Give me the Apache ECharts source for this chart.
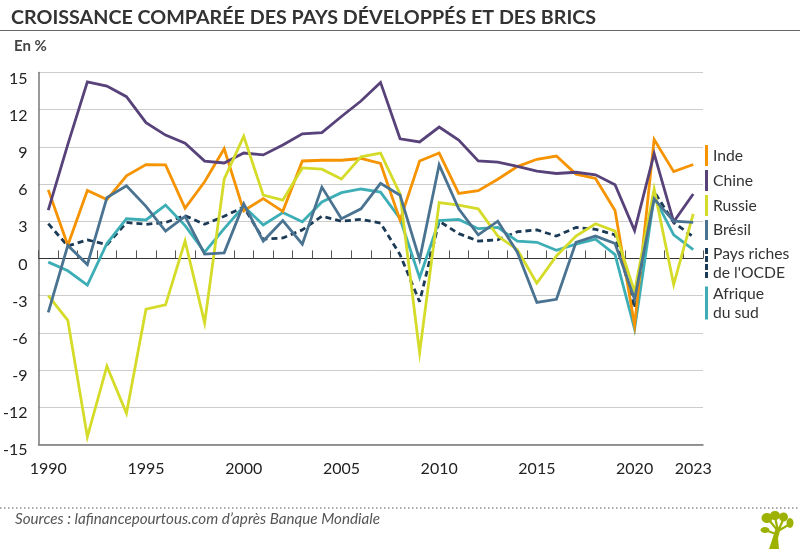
<!DOCTYPE html>
<html><head><meta charset="utf-8">
<style>html,body{margin:0;padding:0;background:#fff}#c{width:800px;height:549px}</style>
<script src="https://cdn.jsdelivr.net/npm/echarts@6/dist/echarts.min.js"></script>
</head><body><div id="c"></div>
<script>
const years = [];
for (let y = 1990; y <= 2023; y++) years.push(String(y));
const shownYears = ['1990','1995','2000','2005','2010','2015','2020','2023'];
const inde   = [5.53,1.06,5.48,4.75,6.66,7.57,7.55,4.05,6.18,8.85,3.84,4.82,3.80,7.86,7.92,7.92,8.06,7.66,3.09,7.86,8.50,5.24,5.46,6.39,7.41,8.00,8.26,6.80,6.45,3.87,-5.4,9.6,7.00,7.58];
const chine  = [3.9,9.2,14.25,13.9,13.05,10.95,9.95,9.3,7.85,7.7,8.5,8.35,9.15,10.05,10.15,11.45,12.7,14.2,9.65,9.4,10.6,9.55,7.86,7.77,7.43,7.04,6.85,6.95,6.75,5.95,2.24,8.45,2.95,5.2];
const russie = [-3.0,-5.0,-14.4,-8.7,-12.5,-4.1,-3.75,1.4,-5.2,6.4,9.85,5.1,4.7,7.3,7.2,6.4,8.2,8.5,5.2,-7.6,4.5,4.3,4.0,1.8,0.7,-2.0,0.2,1.8,2.8,2.2,-2.7,5.6,-2.1,3.6];
const bresil = [-4.35,1.05,-0.5,4.9,5.85,4.2,2.2,3.4,0.35,0.45,4.4,1.4,3.05,1.15,5.75,3.2,4.0,6.05,5.1,-0.1,7.55,4.0,1.9,3.0,0.5,-3.55,-3.3,1.3,1.8,1.2,-3.3,4.8,3.0,2.9];
const ocde   = [2.8,1.0,1.5,1.1,2.9,2.75,2.9,3.45,2.75,3.4,4.15,1.55,1.65,2.3,3.4,3.0,3.15,2.85,0.3,-3.5,3.0,2.0,1.4,1.5,2.15,2.3,1.8,2.5,2.35,1.9,-4.0,5.4,2.9,1.75];
const afrique= [-0.3,-1.0,-2.15,1.2,3.2,3.1,4.3,2.65,0.5,2.4,4.2,2.7,3.7,2.95,4.55,5.3,5.6,5.35,3.2,-1.55,3.05,3.15,2.4,2.5,1.4,1.3,0.65,1.15,1.55,0.3,-5.7,4.95,1.9,0.7];

const FONT = 'Lato';
const GREEN = '#9DB200';
const C = {inde:'#F59300',chine:'#57427A',russie:'#D5DB29',bresil:'#4A7391',ocde:'#1B3A55',afrique:'#3DAEB5'};
const line = (name,data,color,extra) => Object.assign({
  name,type:'line',data,xAxisIndex:0,yAxisIndex:0,symbol:'none',silent:true,
  lineStyle:{color,width:2.8,cap:'butt',join:'miter'},itemStyle:{color}},extra||{});
const leg = (name,label,top,h,color,icon) => ({
  data:[{name,icon:icon||'rect'}],left:705,top,orient:'vertical',padding:0,itemWidth:3,itemHeight:h,
  selectedMode:false,formatter:()=>label,
  itemStyle:{color:icon?'#1B3A55':color},lineStyle:{width:0},
  textStyle:{fontFamily:FONT,fontSize:15.7,color:'#333',lineHeight:19}
});
const dashIcon = 'path://M0 0H3V6H0ZM0 8H3V14H0ZM0 16H3V22H0ZM0 24H3V30H0Z';
const leaf = (cx,cy,rx,ry) => ({type:'ellipse',silent:true,shape:{cx,cy,rx,ry},style:{fill:GREEN}});
const branch = (x1,y1,x2,y2,w) => ({type:'line',silent:true,shape:{x1,y1,x2,y2},style:{stroke:GREEN,lineWidth:w}});

const chart = echarts.init(document.getElementById('c'),null,{renderer:'canvas'});
chart.setOption({
  animation:false,
  backgroundColor:'#fff',
  title:[
    {text:'CROISSANCE COMPARÉE DES PAYS DÉVELOPPÉS ET DES BRICS',left:11,top:8,padding:0,
     textStyle:{fontFamily:FONT,fontSize:19.7,fontWeight:'bold',color:'#333'}},
    {text:'En %',left:14,top:39,padding:0,textStyle:{fontFamily:FONT,fontSize:15,fontWeight:'bold',color:'#444'}},
    {text:'Sources : lafinancepourtous.com d’après Banque Mondiale',left:15,top:512,padding:0,
     textStyle:{fontFamily:FONT,fontSize:15.2,fontStyle:'italic',fontWeight:'normal',color:'#555'}}
  ],
  grid:{left:37.2,top:72.5,width:665.8,height:371.8,containLabel:false},
  legend:[
    leg('Inde','Inde',145,21,C.inde),
    leg('Chine','Chine',170,21,C.chine),
    leg('Russie','Russie',195,21,C.russie),
    leg('Brésil','Brésil',220,20,C.bresil),
    leg('Pays riches','Pays riches\nde l\'OCDE',244,31,C.ocde,dashIcon),
    leg('Afrique','Afrique\ndu sud',284,33,C.afrique)
  ],
  xAxis:[
    {type:'category',data:years,boundaryGap:true,position:'bottom',
     axisLine:{onZero:true,lineStyle:{color:'#333',width:1}},
     axisTick:{show:true,inside:true,length:8,interval:0,lineStyle:{color:'#555',width:1}},
     axisLabel:{show:false},splitLine:{show:false}},
    {type:'category',data:years,boundaryGap:true,position:'bottom',
     axisLine:{onZero:false,lineStyle:{color:'#777',width:1.5}},
     axisTick:{show:false},
     axisLabel:{show:true,interval:(i,v)=>shownYears.includes(v),margin:17,hideOverlap:false,
       fontFamily:FONT,fontSize:16,color:'#222'},splitLine:{show:false}}
  ],
  yAxis:[{type:'value',min:-15,max:15,interval:3,
    axisLine:{show:true,onZero:false,lineStyle:{color:'#777',width:1.5}},
    axisTick:{show:false},
    splitLine:{show:true,lineStyle:{color:'#ccc',width:1}},
    axisLabel:{fontFamily:FONT,fontSize:16,color:'#222',margin:11,align:'right',verticalAlign:'top',lineHeight:12}
  }],
  series:[
    line('Pays riches',ocde,C.ocde,{lineStyle:{color:C.ocde,width:2.8,type:[6,4]}}),
    line('Afrique',afrique,C.afrique),
    line('Inde',inde,C.inde),
    line('Chine',chine,C.chine),
    line('Russie',russie,C.russie),
    line('Brésil',bresil,C.bresil),
    {type:'line',xAxisIndex:1,yAxisIndex:0,data:[],silent:true}
  ],
  graphic:[
    {type:'line',silent:true,shape:{x1:0,y1:30.5,x2:800,y2:30.5},style:{stroke:'#666',lineWidth:1}},
    {type:'line',silent:true,shape:{x1:0,y1:508,x2:800,y2:508},style:{stroke:'#555',lineWidth:1.2,lineDash:[1.5,2.5]}},
    {type:'polygon',silent:true,shape:{points:[[769,549],[779,549],[778,538],[781,527],[776,527],[773,537]]},style:{fill:GREEN}},
    branch(778,531,769,520,2.2),branch(778,531,775,517,2.2),branch(778,531,784,518,2.2),
    branch(778,531,790,524,2.2),branch(776,534,765,530,2.2),
    leaf(767,518,5.5,5),leaf(775,515.5,5,4.5),leaf(783.5,517,4.5,4.5),leaf(790,523,3.5,5),leaf(765,530,4.5,3)
  ]
});
</script></body></html>
